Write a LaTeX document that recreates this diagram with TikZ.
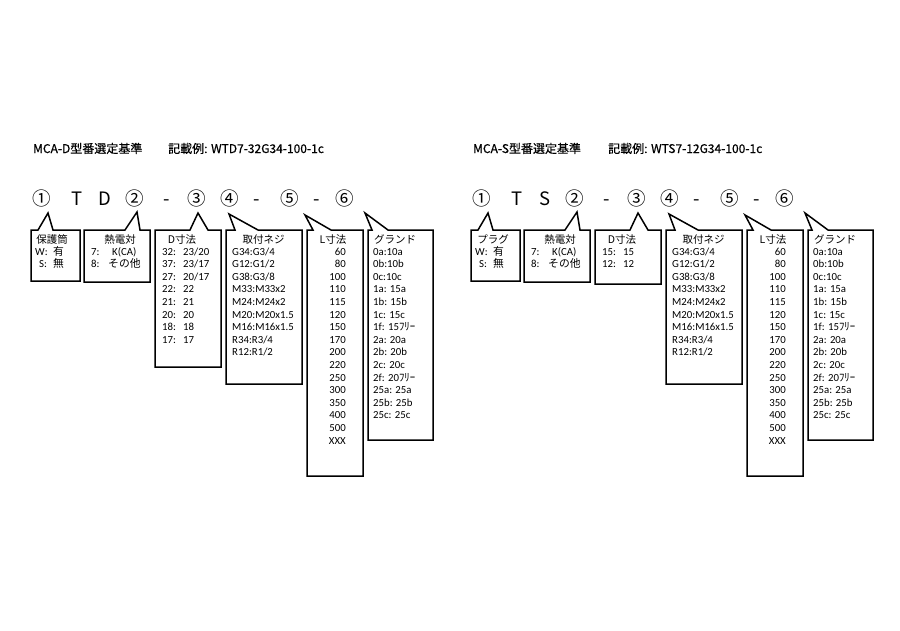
\documentclass[tikz,border=0pt]{standalone}
\usepackage{fontspec}
\setmainfont{Carlito}
\newfontfamily\jpf{Noto Sans CJK JP}
\newfontfamily\jpb{Noto Sans CJK JP}[FakeBold=0.6]
\newcommand\jp[1]{{\jpf #1}}
\newcommand\callout[8]{\draw[cbox] (#1,#2) -- (#5,#2) -- (#6,#7) -- (#8,#2) -- (#3,#2) -- (#3,#4) -- (#1,#4) -- cycle;}
\tikzset{
  cbox/.style={line width=1.5pt, line join=miter, draw=black},
  bt/.style={anchor=base west, inner sep=0pt, font=\fontsize{10.8}{12.6}\selectfont},
  bte/.style={bt, anchor=base east},
  hd/.style={anchor=base, inner sep=0pt, font=\jpf\fontsize{10.5}{12.6}\selectfont},
  big/.style={anchor=base, inner sep=0pt, font=\jpf\fontsize{18.5}{20}\selectfont},
  ttl/.style={anchor=base west, inner sep=0pt, font=\jpb\fontsize{12}{14}\selectfont}
}
\newcommand\common[1]{%
  % top code row
  \node[big] (#1-c1) at (42,205.5) {①};
  \node[big] (#1-cT) at (77,205.5) {T};
  \node[big] (#1-c2) at (135,205.5) {②};
  \node[big] (#1-h1) at (167,205.5) {-};
  \node[big] (#1-c3) at (197,205.5) {③};
  \node[big] (#1-c4) at (230,205.5) {④};
  \node[big] (#1-h2) at (257,205.5) {-};
  \node[big] (#1-c5) at (290,205.5) {⑤};
  \node[big] (#1-h3) at (317,205.5) {-};
  \node[big] (#1-c6) at (345,205.5) {⑥};
  % callouts
  \callout{31}{230}{80}{281}{38}{48}{213}{53}
  \callout{84}{230}{150}{282}{125}{137}{212}{140}
  \callout{226}{230}{302}{384}{235}{229}{214}{258}
  \callout{307}{230}{363}{476}{313}{305}{215}{331}
  \callout{368}{230}{433}{440}{372}{365}{213}{388}
  % box 1 items
  \node[bt] (#1-wa) at (35,255) {W:};
  \node[bt] (#1-wb) at (53,255) {\jp{有}};
  \node[bt] (#1-sa) at (39,267.6) {S:};
  \node[bt] (#1-sb) at (53,267.6) {\jp{無}};
  % box 2
  \node[hd] (#1-tc) at (120,243.5) {熱電対};
  \node[bt] (#1-7a) at (91,255) {7:};
  \node[bt] (#1-7b) at (112,255) {K(CA)};
  \node[bt] (#1-8a) at (91,267.6) {8:};
  \node[bt] (#1-8b) at (108,267.6) {\jp{その他}};
  % box 3 header
  \node[hd] (#1-dh) at (182,243.5) {D寸法};
  % box 4
  \node[hd] (#1-nh) at (263.5,243.5) {取付ネジ};
  \foreach \t [count=\i from 0] in {G34:G3/4,G12:G1/2,G38:G3/8,M33:M33x2,M24:M24x2,M20:M20x1.5,M16:M16x1.5,R34:R3/4,R12:R1/2}
    \node[bt] (#1-n\i) at (232,255+12.6*\i) {\t};
  % box 5
  \node[hd] (#1-lh) at (333,243.5) {L寸法};
  \foreach \t [count=\i from 0] in {60,80,100,110,115,120,150,170,200,220,250,300,350,400,500,XXX}
    \node[bte] (#1-l\i) at (346,255+12.6*\i) {\t};
  % box 6
  \node[hd, anchor=base west] (#1-gh) at (374,243.5) {グランド};
  \foreach \t [count=\i from 0] in {0a:10a,0b:10b,0c:10c,1a: 15a,1b: 15b,1c: 15c,1f: 15\jp{ﾌﾘｰ},2a: 20a,2b: 20b,2c: 20c,2f: 20\jp{ﾌﾘｰ},25a: 25a,25b: 25b,25c: 25c}
    \node[bt] (#1-g\i) at (373,255+12.6*\i) {\t};
}
\begin{document}
\begin{tikzpicture}[x=1pt,y=-1pt]
\useasboundingbox (0,0) rectangle (900,630);
\fill[white] (0,0) rectangle (900,630);
% ---------- left panel: MCA-D ----------
\begin{scope}
  \common{A}
  \node[ttl] (A-title) at (33,153) {MCA-D型番選定基準};
  \node[ttl] (A-ex) at (168,153) {記載例: WTD7-32G34-100-1c};
  \node[big] (A-cX) at (105,205.5) {D};
  \callout{155}{230}{221}{367}{190}{198}{213}{208}
  \node[hd] (A-ph) at (52,243.5) {保護筒};
  \foreach \a/\b [count=\i from 0] in {32/{23/20},37/{23/17},27/{20/17},22/22,21/21,20/20,18/18,17/17}{
    \node[bt] (A-da\i) at (162,255+12.6*\i) {\a:};
    \node[bt] (A-db\i) at (183,255+12.6*\i) {\b};
  }
\end{scope}
% ---------- right panel: MCA-S ----------
\begin{scope}[xshift=440pt]
  \common{B}
  \node[ttl] (B-title) at (33,153) {MCA-S型番選定基準};
  \node[ttl] (B-ex) at (168,153) {記載例: WTS7-12G34-100-1c};
  \node[big] (B-cX) at (105,205.5) {S};
  \callout{155}{230}{221}{284}{190}{198}{213}{208}
  \node[hd] (B-ph) at (53,243.5) {プラグ};
  \foreach \a/\b [count=\i from 0] in {15/15,12/12}{
    \node[bt] (B-da\i) at (162,255+12.6*\i) {\a:};
    \node[bt] (B-db\i) at (183,255+12.6*\i) {\b};
  }
\end{scope}
\end{tikzpicture}
\end{document}
